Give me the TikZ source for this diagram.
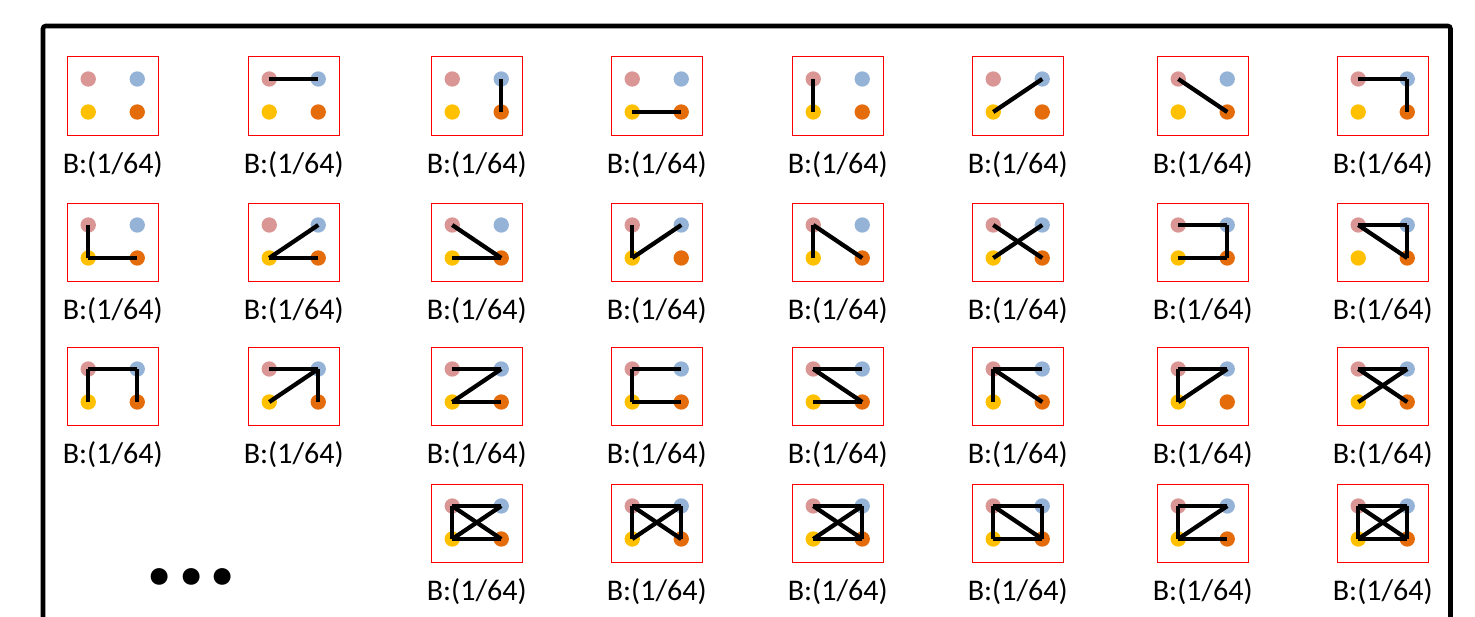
\documentclass[tikz,border=0pt]{standalone}
\usepackage{fontspec}
\setmainfont{Carlito}
\usetikzlibrary{positioning,calc}
\definecolor{pinkdot}{HTML}{D99694}
\definecolor{bluedot}{HTML}{95B3D7}
\definecolor{yellowdot}{HTML}{FFC000}
\definecolor{orangedot}{HTML}{E46C0A}
\tikzset{
  cell/.style={draw=red, line width=0.75pt, minimum width=68.6pt, minimum height=58.5pt, inner sep=0pt},
  dot/.style={circle, inner sep=0pt, minimum size=11.5pt},
  edge/.style={line width=3.2pt},
  tag/.style={font=\fontsize{22.5}{26}\selectfont, inner sep=0pt},
  quad/.pic={
    \node[cell] (-box) {};
    \node[dot, fill=pinkdot] (-p) at (-24.5,-17) {};
    \node[dot, fill=bluedot] (-b) at (24.5,-17) {};
    \node[dot, fill=yellowdot] (-y) at (-24.5,16) {};
    \node[dot, fill=orangedot] (-o) at (24.5,16) {};
    \node[tag] (-tag) at (0,69) {B:(1/64)};
  }
}
\begin{document}
\begin{tikzpicture}[x=0.75pt,y=-0.75pt]
\useasboundingbox (0,0) rectangle (1475,617);
% outer frame, open at the bottom
\draw[line width=3.4pt, rounded corners=2pt] (43,630) -- (43,26) -- (1450.5,26) -- (1450.5,630);
% rows 1 to 3
\foreach \cy [count=\r] in {96,242,386} {
  \foreach \cx [count=\c] in {112.75,293.75,476.75,656.75,837.75,1017.75,1202.75,1382.75} {
    \pic (g-\r-\c) at (\cx,\cy) {quad};
  }
}
% row 4
\foreach \cx [count=\c from 3] in {476.75,656.75,837.75,1017.75,1202.75,1382.75} {
  \pic (g-4-\c) at (\cx,523) {quad};
}
% edges
\foreach \n/\u/\v in {1-2/p/b, 1-3/b/o, 1-4/y/o, 1-5/p/y, 1-6/y/b, 1-7/p/o, 1-8/p/b, 1-8/b/o,
    2-1/p/y, 2-1/y/o, 2-2/y/b, 2-2/y/o, 2-3/p/o, 2-3/y/o, 2-4/p/y, 2-4/y/b,
    2-5/p/y, 2-5/p/o, 2-6/p/o, 2-6/y/b, 2-7/p/b, 2-7/b/o, 2-7/y/o, 2-8/p/b, 2-8/p/o, 2-8/b/o,
    3-1/p/b, 3-1/p/y, 3-1/b/o, 3-2/p/b, 3-2/y/b, 3-2/b/o, 3-3/p/b, 3-3/y/b, 3-3/y/o,
    3-4/p/b, 3-4/p/y, 3-4/y/o, 3-5/p/b, 3-5/p/o, 3-5/y/o, 3-6/p/b, 3-6/p/y, 3-6/p/o,
    3-7/p/b, 3-7/p/y, 3-7/y/b, 3-8/p/b, 3-8/p/o, 3-8/y/b,
    4-3/p/b, 4-3/p/y, 4-3/p/o, 4-3/y/b, 4-3/y/o,
    4-4/p/b, 4-4/p/y, 4-4/b/o, 4-4/p/o, 4-4/y/b,
    4-5/p/b, 4-5/b/o, 4-5/y/o, 4-5/p/o, 4-5/y/b,
    4-6/p/b, 4-6/p/y, 4-6/b/o, 4-6/y/o, 4-6/p/o,
    4-7/p/b, 4-7/p/y, 4-7/y/b, 4-7/y/o,
    4-8/p/b, 4-8/p/y, 4-8/b/o, 4-8/y/o, 4-8/p/o, 4-8/y/b}
  \draw[edge] (g-\n-\u.center) -- (g-\n-\v.center);
\node[font=\bfseries\fontsize{85}{85}\selectfont] (more) at (191.5,577) {.\hspace{1pt}.\hspace{1pt}.};
\end{tikzpicture}
\end{document}
